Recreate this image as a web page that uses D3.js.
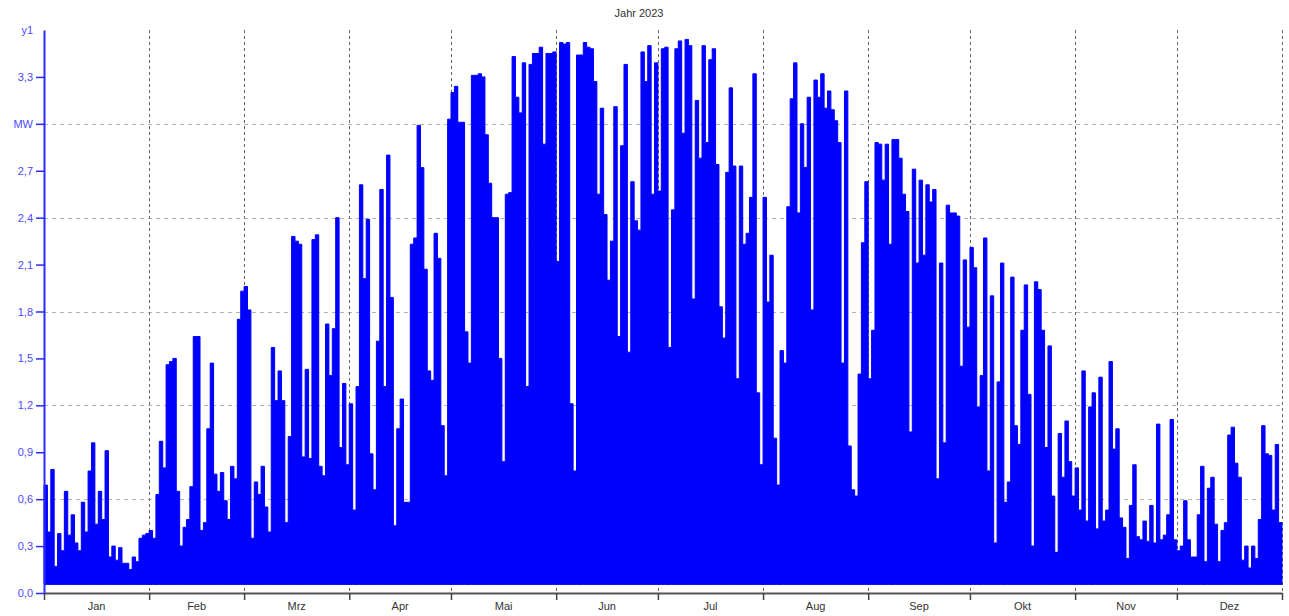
<!DOCTYPE html>
<html>
<head>
<meta charset="utf-8">
<script src="https://cdn.jsdelivr.net/npm/d3@7"></script>
<style>
  body { margin: 0; background: #fff; }
  svg { font-family: "Liberation Sans", Arial, sans-serif; }
</style>
</head>
<body>
<div id="chart"></div>
<script>
// daily peak power (MW)
const jan = [0.69, 0.39, 0.79, 0.17, 0.38, 0.27, 0.65, 0.37, 0.50, 0.32, 0.27, 0.58, 0.39, 0.78, 0.96, 0.44, 0.65, 0.47, 0.91, 0.23, 0.30, 0.21, 0.29, 0.19, 0.19, 0.15, 0.23, 0.20, 0.35, 0.37, 0.38];
const feb = [0.40, 0.35, 0.63, 0.97, 0.80, 1.46, 1.48, 1.50, 0.65, 0.30, 0.42, 0.47, 0.68, 1.64, 1.64, 0.40, 0.45, 1.05, 1.47, 0.76, 0.65, 0.77, 0.59, 0.47, 0.81, 0.73, 1.75, 1.93];
const mrz = [1.96, 1.81, 0.35, 0.71, 0.63, 0.81, 0.55, 0.39, 1.57, 1.23, 1.42, 1.23, 0.45, 1.00, 2.28, 2.25, 2.23, 0.87, 1.43, 0.86, 2.26, 2.29, 0.81, 0.75, 1.72, 1.39, 1.69, 2.40, 0.93, 1.34, 0.82];
const apr = [1.21, 0.53, 1.32, 2.61, 2.01, 2.39, 0.89, 0.66, 1.61, 2.58, 1.32, 2.80, 1.89, 0.43, 1.05, 1.24, 0.58, 0.58, 2.23, 2.27, 2.99, 2.72, 2.07, 1.42, 1.36, 2.30, 2.14, 1.07, 0.75, 3.03];
const mai = [3.20, 3.24, 3.01, 3.01, 1.67, 1.47, 3.31, 3.31, 3.32, 3.30, 2.93, 2.62, 2.40, 2.40, 1.50, 0.84, 2.55, 2.56, 3.43, 3.17, 3.07, 3.39, 1.32, 3.38, 3.45, 3.45, 3.49, 2.87, 3.45, 3.45, 3.46];
const jun = [2.12, 3.52, 3.51, 3.52, 1.21, 0.78, 3.44, 3.44, 3.52, 3.49, 3.48, 3.27, 2.55, 3.10, 2.42, 2.00, 2.25, 3.11, 1.64, 2.86, 3.38, 1.54, 2.63, 2.38, 2.32, 3.46, 3.27, 3.50, 2.55, 3.39];
const jul = [2.57, 3.48, 3.49, 1.57, 2.45, 3.48, 3.53, 2.94, 3.54, 3.50, 1.88, 3.15, 2.78, 3.50, 2.88, 3.41, 3.48, 2.74, 1.83, 1.63, 2.69, 3.23, 2.73, 1.37, 2.73, 2.23, 2.30, 2.53, 3.32, 1.28, 0.82];
const aug = [2.53, 1.86, 2.16, 0.99, 0.69, 1.55, 1.47, 2.47, 3.16, 3.39, 2.43, 3.00, 2.72, 3.17, 1.81, 3.28, 3.17, 3.32, 3.10, 3.21, 3.09, 3.02, 2.88, 1.47, 3.21, 0.94, 0.66, 0.62, 1.40, 2.24, 2.63];
const sep = [1.37, 1.68, 2.88, 2.87, 2.64, 2.87, 2.23, 2.90, 2.90, 2.78, 2.55, 2.44, 1.03, 2.71, 2.11, 2.64, 2.16, 2.61, 2.50, 2.58, 0.73, 2.11, 0.96, 2.48, 2.43, 2.43, 2.41, 1.45, 2.13, 1.70];
const okt = [2.21, 2.08, 1.19, 1.39, 2.27, 0.78, 1.90, 0.32, 1.35, 2.11, 0.58, 0.71, 2.02, 1.07, 0.95, 1.68, 1.97, 1.27, 0.30, 1.99, 1.94, 1.68, 0.93, 1.58, 0.62, 0.26, 1.02, 0.74, 1.10, 0.84, 0.62];
const nov = [0.80, 0.53, 1.42, 0.46, 1.19, 1.28, 0.41, 1.38, 0.46, 0.53, 1.48, 0.92, 1.05, 0.48, 0.42, 0.22, 0.56, 0.82, 0.36, 0.34, 0.46, 0.33, 0.56, 0.32, 1.08, 0.34, 0.37, 0.50, 1.11, 0.34];
const dez = [0.27, 0.30, 0.59, 0.34, 0.23, 0.23, 0.50, 0.81, 0.20, 0.67, 0.74, 0.44, 0.20, 0.40, 0.45, 1.01, 1.06, 0.83, 0.74, 0.21, 0.30, 0.16, 0.30, 0.22, 0.47, 1.07, 0.89, 0.88, 0.53, 0.95, 0.45];

const nightBase = 0.055; // night-time floor of the curve

const monthNames = ["Jan", "Feb", "Mrz", "Apr", "Mai", "Jun", "Jul", "Aug", "Sep", "Okt", "Nov", "Dez"];
const yTickValues = [0, 0.3, 0.6, 0.9, 1.2, 1.5, 1.8, 2.1, 2.4, 2.7, 3.0, 3.3, 3.6];
const yTickLabels = ["0,0", "0,3", "0,6", "0,9", "1,2", "1,5", "1,8", "2,1", "2,4", "2,7", "MW", "3,3", "y1"];
const yGridValues = [0.6, 1.2, 1.8, 2.4, 3.0];
const chartTitle = "Jahr 2023";

const months = [jan, feb, mrz, apr, mai, jun, jul, aug, sep, okt, nov, dez];
const peaks = months.flat();
const monthStarts = [0];
months.forEach(m => monthStarts.push(monthStarts[monthStarts.length - 1] + m.length));

const width = 1289;
const height = 616;
const plotLeft = 44, plotRight = 1282, plotTop = 30, plotBottom = 593;

const svg = d3.select("#chart")
    .append("svg")
    .attr("width", width)
    .attr("height", height);

const x = d3.scaleLinear().domain([0, peaks.length]).range([plotLeft, plotRight]);
const y = d3.scaleLinear().domain([0, 3.6]).range([plotBottom, plotTop]);

// title (sits a bit left of the plot centre, as in the original)
svg.append("text")
    .attr("x", 639)
    .attr("y", 17)
    .attr("text-anchor", "middle")
    .attr("font-size", 11)
    .attr("fill", "#333")
    .text(chartTitle);

// horizontal grid
svg.selectAll(".hgrid")
    .data(yGridValues)
    .enter().append("line")
    .attr("class", "hgrid")
    .attr("x1", plotLeft).attr("x2", plotRight)
    .attr("y1", d => Math.round(y(d)) + 0.5).attr("y2", d => Math.round(y(d)) + 0.5)
    .attr("stroke", "#b4b4b4")
    .attr("stroke-dasharray", "4,4");

// vertical grid at month starts
svg.selectAll(".vgrid")
    .data(monthStarts.slice(1))
    .enter().append("line")
    .attr("class", "vgrid")
    .attr("x1", d => Math.round(x(d)) + 0.5).attr("x2", d => Math.round(x(d)) + 0.5)
    .attr("y1", plotTop).attr("y2", plotBottom)
    .attr("stroke", "#666")
    .attr("stroke-dasharray", "3,3");

// daily curve as a stepped area
const series = peaks.map((v, i) => ({ day: i, v: v }));
series.push({ day: peaks.length, v: peaks[peaks.length - 1] });

const area = d3.area()
    .curve(d3.curveStepAfter)
    .x(d => x(d.day))
    .y0(y(nightBase))
    .y1(d => y(d.v));

svg.append("path")
    .datum(series)
    .attr("d", area)
    .attr("fill", "#0000ff")
    .attr("stroke", "#0000ff")
    .attr("stroke-width", 1);

// x axis
const xAxis = d3.axisBottom(x)
    .tickValues(monthStarts)
    .tickFormat("")
    .tickSize(7)
    .tickSizeOuter(0);

const gx = svg.append("g")
    .attr("transform", `translate(0,${plotBottom})`)
    .call(xAxis);
gx.select(".domain").attr("stroke", "#555").attr("stroke-width", 2);
gx.selectAll(".tick line").attr("stroke", "#444").attr("stroke-width", 1.5);

svg.selectAll(".month-label")
    .data(monthNames)
    .enter().append("text")
    .attr("class", "month-label")
    .attr("x", (d, i) => x((monthStarts[i] + monthStarts[i + 1]) / 2))
    .attr("y", 610)
    .attr("text-anchor", "middle")
    .attr("font-size", 11)
    .attr("fill", "#333")
    .text(d => d);

// y axis
const yAxis = d3.axisLeft(y)
    .tickValues(yTickValues)
    .tickFormat((d, i) => yTickLabels[i])
    .tickSize(8)
    .tickPadding(3)
    .tickSizeOuter(0);

const gy = svg.append("g")
    .attr("transform", `translate(${plotLeft},0)`)
    .call(yAxis);
gy.select(".domain").attr("stroke", "#2a2aff").attr("stroke-width", 2);
gy.selectAll(".tick line").attr("stroke", "#2a2aff").attr("stroke-width", 1.5);
gy.selectAll(".tick text")
    .attr("fill", "#4a4aff")
    .attr("font-size", 11)
    .attr("font-family", "Liberation Sans, Arial, sans-serif");
// the topmost label has no tick mark
gy.selectAll(".tick").filter((d, i) => i === yTickValues.length - 1)
    .select("line").remove();
</script>
</body>
</html>
